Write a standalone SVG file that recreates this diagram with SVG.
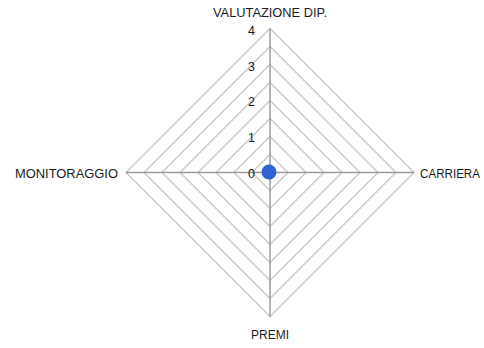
<svg xmlns="http://www.w3.org/2000/svg" width="484" height="348" viewBox="0 0 484 348">
<style>
.ring{fill:none;stroke:#c8c8c8;stroke-width:1.3}
.axis{stroke:#9a9a9a;stroke-width:1.5}
.lbl{font-family:"Liberation Sans",Arial,sans-serif;font-size:12.5px;fill:#1a1a1a}
.tick{font-family:"Liberation Sans",Arial,sans-serif;font-size:12.5px;fill:#1a1a1a;text-anchor:end}
</style>
<rect width="484" height="348" fill="#ffffff"/>
<g id="grid">
<polygon class="ring" points="270,154.5 288,172.5 270,190.5 252,172.5"/>
<polygon class="ring" points="270,136.5 306,172.5 270,208.5 234,172.5"/>
<polygon class="ring" points="270,118.5 324,172.5 270,226.5 216,172.5"/>
<polygon class="ring" points="270,100.5 342,172.5 270,244.5 198,172.5"/>
<polygon class="ring" points="270,82.5 360,172.5 270,262.5 180,172.5"/>
<polygon class="ring" points="270,64.5 378,172.5 270,280.5 162,172.5"/>
<polygon class="ring" points="270,46.5 396,172.5 270,298.5 144,172.5"/>
<polygon class="ring" points="270,28.5 414,172.5 270,316.5 126,172.5"/>
</g>
<g id="connectors">
<line class="axis" x1="270" y1="28.5" x2="270" y2="316.5"/>
<line class="axis" x1="126" y1="172.5" x2="414" y2="172.5"/>
</g>
<g id="ticks">
<text class="tick" x="255" y="35">4</text>
<text class="tick" x="255" y="71">3</text>
<text class="tick" x="255" y="106">2</text>
<text class="tick" x="255" y="142">1</text>
<text class="tick" x="255" y="178">0</text>
</g>
<g id="node-valutazione"><text class="lbl" x="270" y="17" text-anchor="middle" textLength="114" lengthAdjust="spacingAndGlyphs">VALUTAZIONE DIP.</text></g>
<g id="node-carriera"><text class="lbl" x="420" y="177.5" textLength="60" lengthAdjust="spacingAndGlyphs">CARRIERA</text></g>
<g id="node-premi"><text class="lbl" x="270" y="339" text-anchor="middle" textLength="38" lengthAdjust="spacingAndGlyphs">PREMI</text></g>
<g id="node-monitoraggio"><text class="lbl" x="15" y="177.5" textLength="103" lengthAdjust="spacingAndGlyphs">MONITORAGGIO</text></g>
<g id="series"><circle cx="269" cy="172" r="7.5" fill="#2f62d4"/></g>
</svg>
